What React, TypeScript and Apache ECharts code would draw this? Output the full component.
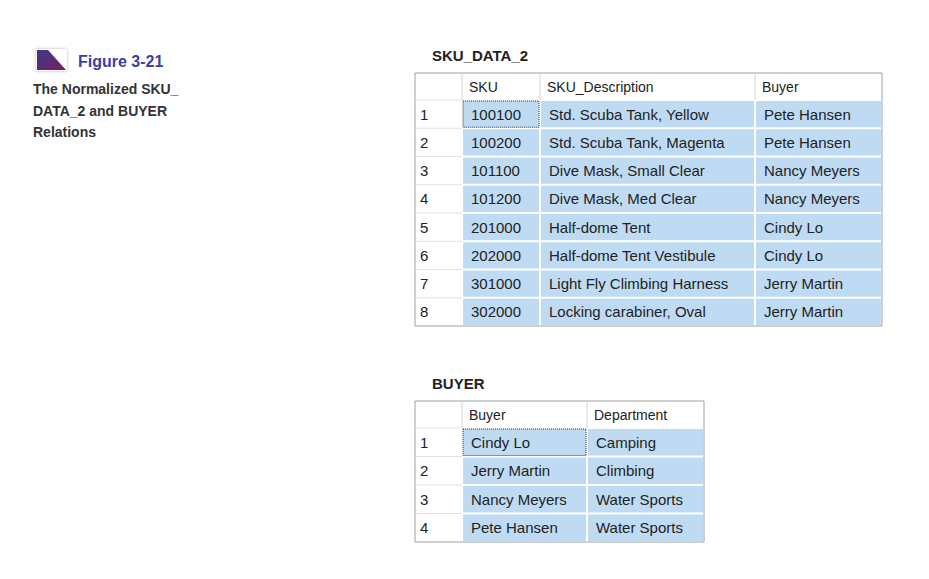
import React, { useEffect, useRef } from 'react';
import * as echarts from 'echarts';

const skuColumns = ['', 'SKU', 'SKU_Description', 'Buyer'];
const skuWidths = [47, 78, 215, 127];
const skuRows = [
  ['1', '100100', 'Std. Scuba Tank, Yellow', 'Pete Hansen'],
  ['2', '100200', 'Std. Scuba Tank, Magenta', 'Pete Hansen'],
  ['3', '101100', 'Dive Mask, Small Clear', 'Nancy Meyers'],
  ['4', '101200', 'Dive Mask, Med Clear', 'Nancy Meyers'],
  ['5', '201000', 'Half-dome Tent', 'Cindy Lo'],
  ['6', '202000', 'Half-dome Tent Vestibule', 'Cindy Lo'],
  ['7', '301000', 'Light Fly Climbing Harness', 'Jerry Martin'],
  ['8', '302000', 'Locking carabiner, Oval', 'Jerry Martin'],
];

const buyerColumns = ['', 'Buyer', 'Department'];
const buyerWidths = [47, 125, 117];
const buyerRows = [
  ['1', 'Cindy Lo', 'Camping'],
  ['2', 'Jerry Martin', 'Climbing'],
  ['3', 'Nancy Meyers', 'Water Sports'],
  ['4', 'Pete Hansen', 'Water Sports'],
];

const captionLines = ['The Normalized SKU_', 'DATA_2 and BUYER', 'Relations'];

const FONT = '"Liberation Sans", Arial, sans-serif';

function buildTable(x0: number, y0: number, cols: string[], widths: number[], rows: string[][], headH: number, rowH: number) {
  const els: any[] = [];
  const totalW = widths.reduce((a, b) => a + b, 0);
  const totalH = headH + rows.length * rowH;
  els.push({ type: 'rect', shape: { x: x0, y: y0, width: totalW, height: totalH }, style: { fill: '#fff', stroke: '#a0a0a0', lineWidth: 1 } });
  let cx = x0;
  cols.forEach((c, i) => {
    if (i > 0) {
      els.push({ type: 'line', shape: { x1: cx, y1: y0 + 1, x2: cx, y2: y0 + headH }, style: { stroke: '#d4d4d4', lineWidth: 1 } });
    }
    els.push({ type: 'text', style: { x: cx + 7, y: y0 + headH / 2, text: c, fontFamily: FONT, fontSize: 14, fill: '#222', verticalAlign: 'middle' } });
    cx += widths[i];
  });
  rows.forEach((r, ri) => {
    const y = y0 + headH + ri * rowH;
    let x = x0;
    r.forEach((v, ci) => {
      if (ci > 0) {
        els.push({ type: 'rect', shape: { x: x + 1, y: y + 1, width: widths[ci] - 2, height: rowH - 2 }, style: { fill: '#bfdbf3' } });
      } else {
        els.push({ type: 'line', shape: { x1: x, y1: y, x2: x + widths[0], y2: y }, style: { stroke: '#e2e2e2', lineWidth: 1 } });
      }
      els.push({ type: 'text', style: { x: x + (ci === 0 ? 5 : 9), y: y + rowH / 2, text: v, fontFamily: FONT, fontSize: 15, fill: '#222', verticalAlign: 'middle' } });
      x += widths[ci];
    });
  });
  // focus cell
  els.push({ type: 'rect', shape: { x: x0 + widths[0] + 1, y: y0 + headH + 1, width: widths[1] - 2, height: rowH - 2 }, style: { fill: 'none', stroke: '#333', lineWidth: 1, lineDash: [1, 1] } });
  return els;
}

const App: React.FC = () => {
  const ref = useRef<HTMLDivElement>(null);
  useEffect(() => {
    if (!ref.current) return;
    const chart = echarts.init(ref.current, null, { renderer: 'svg' });
    const graphic: any[] = [
      { type: 'rect', shape: { x: 36, y: 49, width: 31, height: 22 }, style: { fill: '#fff', shadowBlur: 3, shadowColor: 'rgba(0,0,0,0.3)' } },
      { type: 'rect', shape: { x: 37, y: 50, width: 29, height: 20 }, style: { fill: new echarts.graphic.LinearGradient(0, 0, 1, 1, [{ offset: 0, color: '#3a3a8a' }, { offset: 1, color: '#7a1f5a' }]) } },
      { type: 'polygon', shape: { points: [[48, 50], [66, 50], [66, 70]] }, style: { fill: '#fff' } },
      { type: 'text', style: { x: 78, y: 61, text: 'Figure 3-21', fontFamily: FONT, fontSize: 16, fontWeight: 'bold', fill: '#3b3fa3', verticalAlign: 'middle' } },
      ...captionLines.map((t, i) => ({ type: 'text', style: { x: 33, y: 89 + i * 21.5, text: t, fontFamily: FONT, fontSize: 14, fontWeight: 'bold', fill: '#333', verticalAlign: 'middle' } })),
      { type: 'text', style: { x: 432, y: 55, text: 'SKU_DATA_2', fontFamily: FONT, fontSize: 15, fontWeight: 'bold', fill: '#222', verticalAlign: 'middle' } },
      { type: 'text', style: { x: 432, y: 383, text: 'BUYER', fontFamily: FONT, fontSize: 15, fontWeight: 'bold', fill: '#222', verticalAlign: 'middle' } },
      ...buildTable(415, 73, skuColumns, skuWidths, skuRows, 27, 28.25),
      ...buildTable(415, 401, buyerColumns, buyerWidths, buyerRows, 27, 28.5),
    ];
    chart.setOption({ animation: false, backgroundColor: '#fff', graphic });
    return () => chart.dispose();
  }, []);
  return <div ref={ref} style={{ position: 'fixed', left: 0, top: 0, width: 929, height: 579 }} />;
};

export default App;
